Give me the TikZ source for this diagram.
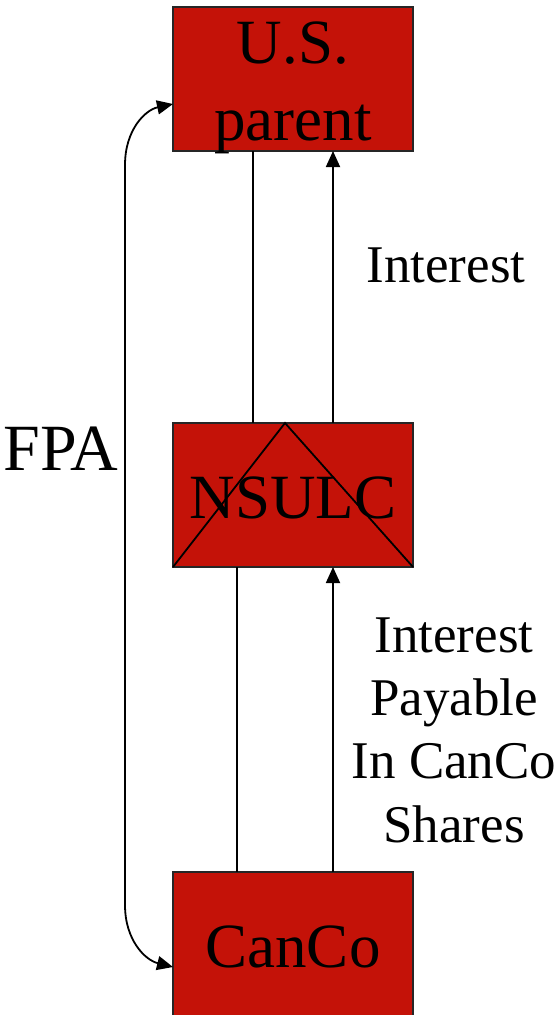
\documentclass[tikz,border=0pt]{standalone}
\usepackage{fontspec}
\setmainfont{Liberation Serif}
\usetikzlibrary{arrows.meta,calc}
\definecolor{boxred}{RGB}{196,18,8}
\tikzset{
  entity/.style={draw=black!85, line width=1.7pt, fill=boxred,
    minimum width=240pt, minimum height=144pt, inner sep=0pt, outer sep=0pt},
  bigtext/.style={font=\fontsize{63}{77}\selectfont, inner sep=0pt, anchor=base},
  flowtext/.style={font=\fontsize{53}{63}\selectfont, inner sep=0pt, anchor=base},
  link/.style={line width=1.8pt},
  flow/.style={line width=1.8pt, -{Triangle[length=16pt,width=14pt]}},
  twoway/.style={line width=1.8pt, {Triangle[length=16pt,width=14pt]}-{Triangle[length=16pt,width=14pt]}},
}
\begin{document}
\begin{tikzpicture}[x=1pt,y=-1pt]
\useasboundingbox (0,0) rectangle (559,1015);

% entities
\node[entity] (us)    at (293,79)  {};
\node[entity] (nsulc) at (293,495) {};
\node[entity] (canco) at (293,944) {};

% entity names
\node[bigtext] (ustop) at (293,63)  {U.S.};
\node[bigtext] (usbot) at (293,140) {parent};
\node[bigtext] (nsulctxt) at (293,518) {NSULC};
\node[bigtext] (cancotxt) at (293,967) {CanCo};

% triangle marking the hybrid entity
\coordinate (apex) at ($(nsulc.north west)+(112,0)$);
\draw[link] (nsulc.south west) -- (apex) -- (nsulc.south east);

% ownership links and interest flows
\draw[link] ([xshift=-40pt]us.south) -- ([xshift=-40pt]nsulc.north);
\draw[flow] ([xshift=40pt]nsulc.north) -- ([xshift=40pt]us.south);
\draw[link] ([xshift=-56pt]canco.north) -- ([xshift=-56pt]nsulc.south);
\draw[flow] ([xshift=40pt]canco.north) -- ([xshift=40pt]nsulc.south);

% forward purchase agreement
\draw[twoway] ([yshift=-25pt]us.west)
  .. controls (145,110) and (125,130) .. (125,165)
  -- (125,905)
  .. controls (125,940) and (145,960) .. ([yshift=-23pt]canco.west);

% labels
\node[bigtext, font=\fontsize{66}{77}\selectfont] (fpa) at (61,470) {FPA};
\node[flowtext] (int1) at (446,282) {Interest};
\node[flowtext] (int2a) at (454,652) {Interest};
\node[flowtext] (int2b) at (454,715) {Payable};
\node[flowtext] (int2c) at (454,778) {In CanCo};
\node[flowtext] (int2d) at (454,842) {Shares};
\end{tikzpicture}
\end{document}
